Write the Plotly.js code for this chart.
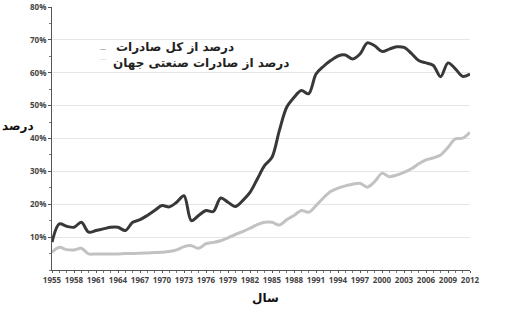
<!DOCTYPE html>
<html>
<head>
<meta charset="utf-8">
<script src="https://cdn.plot.ly/plotly-3.0.1.min.js"></script>
<style>html,body{margin:0;padding:0;background:#fff;}#chart{width:530px;height:321px;}</style>
</head>
<body>
<div id="chart"></div>
<script>
const years = [];
for (let y = 1955; y <= 2012; y++) years.push(y);

const seriesNames = ['درصد از کل صادرات', 'درصد از صادرات صنعتی جهان'];
const xTitle = 'سال';
const yTitle = 'درصد';
const yTickVals = [10, 20, 30, 40, 50, 60, 70, 80];
const yTickText = ['10%', '20%', '30%', '40%', '50%', '60%', '70%', '80%'];

// share of total exports (%)
const totalExports = [
  8.5, 14.0, 13.3, 13.0, 14.5, 11.5, 12.0, 12.5, 13.0, 13.0,
  12.0, 14.5, 15.3, 16.6, 18.1, 19.6, 19.2, 20.6, 22.6, 15.0,
  16.6, 18.1, 17.8, 21.9, 20.6, 19.3, 21.1, 23.6, 27.7, 31.8,
  34.3, 42.4, 49.5, 52.5, 54.6, 53.6, 59.6, 61.9, 63.7, 65.1,
  65.4, 64.2, 65.7, 69.1, 68.2, 66.5, 67.2, 67.9, 67.7, 65.9,
  63.7, 63.0, 62.2, 58.8, 63.0, 61.2, 58.9, 59.6
];

// share of world manufactured exports (%)
const worldManufExports = [
  5.4, 6.9, 6.2, 6.1, 6.6, 4.9, 4.9, 4.9, 4.9, 4.9,
  5.0, 5.0, 5.1, 5.2, 5.3, 5.4, 5.6, 6.1, 7.1, 7.4,
  6.6, 8.0, 8.4, 8.9, 9.8, 10.8, 11.7, 12.7, 13.8, 14.5,
  14.5, 13.7, 15.3, 16.6, 18.1, 17.6, 19.6, 21.9, 23.9, 24.9,
  25.6, 26.1, 26.4, 25.2, 26.9, 29.4, 28.4, 28.9, 29.7, 30.8,
  32.3, 33.5, 34.1, 35.0, 37.3, 39.9, 40.1, 41.9
];

const arFont = 'DejaVu Sans, sans-serif';
const tickFont = {family: 'Open Sans, DejaVu Sans, sans-serif', size: 8, color: '#444', weight: 'bold'};

const traces = [
  {x: years, y: worldManufExports, name: seriesNames[1], type: 'scatter', mode: 'lines',
   line: {color: '#c2c2c2', width: 3, shape: 'spline', smoothing: 0.9}, showlegend: false, hoverinfo: 'skip'},
  {x: years, y: totalExports, name: seriesNames[0], type: 'scatter', mode: 'lines',
   line: {color: '#383838', width: 3, shape: 'spline', smoothing: 0.9}, showlegend: false, hoverinfo: 'skip'}
];

const layout = {
  width: 530, height: 321,
  margin: {l: 52, r: 60, t: 7, b: 51},
  paper_bgcolor: '#fff', plot_bgcolor: '#fff',
  xaxis: {
    range: [1955, 2012], tick0: 1955, dtick: 3,
    showline: true, linecolor: '#555', linewidth: 1,
    ticks: 'outside', ticklen: 2, tickcolor: '#555',
    minor: {dtick: 1, ticks: 'outside', ticklen: 2, tickcolor: '#777'},
    showgrid: false, zeroline: false,
    tickfont: tickFont
  },
  yaxis: {
    range: [0, 80], tickmode: 'array', tickvals: yTickVals, ticktext: yTickText,
    showline: true, linecolor: '#555', linewidth: 1,
    ticks: 'outside', ticklen: 3, tickcolor: '#555',
    minor: {dtick: 5, ticks: 'outside', ticklen: 2, tickcolor: '#777', showgrid: false},
    showgrid: true, gridcolor: '#e6e6e6', gridwidth: 1, zeroline: false,
    tickfont: tickFont
  },
  annotations: [
    {xref: 'paper', yref: 'paper', x: (265 - 52) / 418, y: (270 - 298) / 263, text: xTitle, showarrow: false,
     font: {family: arFont, size: 12, color: '#111', weight: 'bold'}, xanchor: 'center', yanchor: 'middle'},
    {xref: 'paper', yref: 'paper', x: (18 - 52) / 418, y: (270 - 126) / 263, text: yTitle, showarrow: false,
     font: {family: arFont, size: 12, color: '#111', weight: 'bold'}, xanchor: 'center', yanchor: 'middle'},
    // legend
    {xref: 'paper', yref: 'paper', x: (103 - 52) / 418, y: (270 - 48) / 263, text: '—', showarrow: false,
     font: {family: arFont, size: 6, color: '#555', weight: 'normal'}, xanchor: 'center', yanchor: 'middle', borderpad: 0},
    {xref: 'paper', yref: 'paper', x: (114 - 52) / 418, y: (270 - 46.5) / 263, text: seriesNames[0], showarrow: false,
     font: {family: arFont, size: 12, color: '#222', weight: 'bold'}, xanchor: 'left', yanchor: 'middle'},
    {xref: 'paper', yref: 'paper', x: (103 - 52) / 418, y: (270 - 58) / 263, text: '—', showarrow: false,
     font: {family: arFont, size: 6, color: '#c2c2c2', weight: 'normal'}, xanchor: 'center', yanchor: 'middle', borderpad: 0},
    {xref: 'paper', yref: 'paper', x: (111 - 52) / 418, y: (270 - 63) / 263, text: seriesNames[1], showarrow: false,
     font: {family: arFont, size: 12, color: '#222', weight: 'bold'}, xanchor: 'left', yanchor: 'middle'}
  ]
};

Plotly.newPlot('chart', traces, layout, {staticPlot: true, displayModeBar: false});
</script>
</body>
</html>
